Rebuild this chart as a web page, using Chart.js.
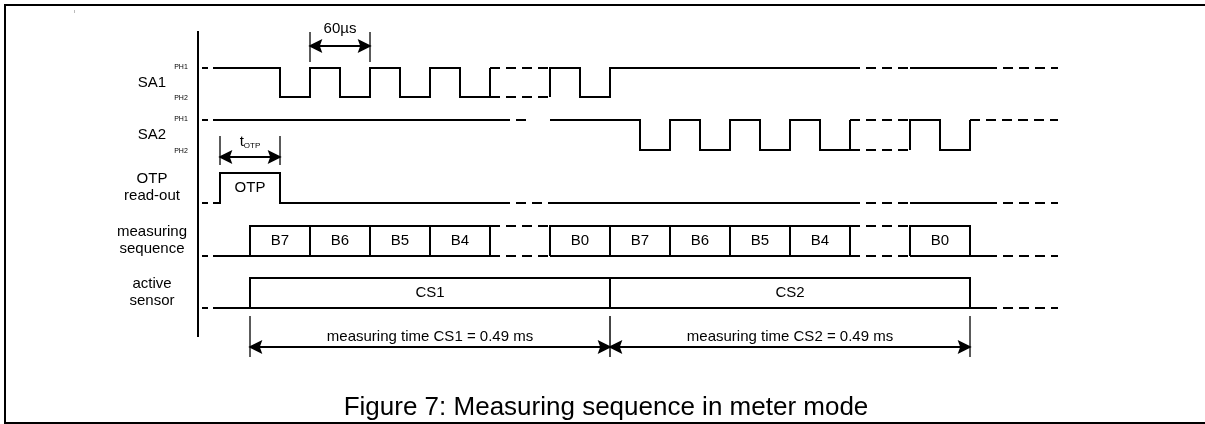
<!DOCTYPE html>
<html>
<head>
<meta charset="utf-8">
<script src="https://cdn.jsdelivr.net/npm/chart.js@4"></script>
<style>
  html, body { margin: 0; padding: 0; background: #fff; }
  canvas { display: block; }
</style>
</head>
<body>
<canvas id="timing" width="1205" height="424"></canvas>
<script>
// time in µs, 0 = start of the first B7 bit
// level 1 = high (PH1 / box top), level 0 = low (PH2 / baseline)

// SA1 clock
const sa1Solid = [
  [[-48, 1], [-42, 1]],
  [[-37, 1], [30, 1], [30, 0], [60, 0], [60, 1], [90, 1], [90, 0], [120, 0], [120, 1], [150, 1], [150, 0], [180, 0], [180, 1], [210, 1], [210, 0], [240, 0], [240, 1]],
  [[300, 0], [300, 1], [330, 1], [330, 0], [360, 0], [360, 1], [600, 1]],
  [[660, 1], [737, 1]]
];
const sa1Dashed = [
  [[240, 1], [300, 1]], [[240, 0], [300, 0]],
  [[600, 1], [660, 1]],
  [[737, 1], [808, 1]]
];

// SA2 clock
const sa2Solid = [
  [[-48, 1], [-42, 1]],
  [[-37, 1], [250, 1]],
  [[300, 1], [390, 1], [390, 0], [420, 0], [420, 1], [450, 1], [450, 0], [480, 0], [480, 1], [510, 1], [510, 0], [540, 0], [540, 1], [570, 1], [570, 0], [600, 0], [600, 1]],
  [[660, 0], [660, 1], [690, 1], [690, 0], [720, 0], [720, 1]]
];
const sa2Dashed = [
  [[250, 1], [282, 1]],
  [[600, 1], [660, 1]], [[600, 0], [660, 0]],
  [[720, 1], [808, 1]]
];

// OTP read-out
const otpSolid = [
  [[-48, 0], [-42, 0]],
  [[-37, 0], [-30, 0], [-30, 1], [30, 1], [30, 0], [250, 0]],
  [[300, 0], [600, 0]],
  [[660, 0], [737, 0]]
];
const otpDashed = [
  [[250, 0], [300, 0]],
  [[600, 0], [660, 0]],
  [[737, 0], [808, 0]]
];
const otpBox = ['OTP', -30, 30];

// measuring sequence
const bitLabels = ['B7', 'B6', 'B5', 'B4', 'B0', 'B7', 'B6', 'B5', 'B4', 'B0'];
const bitStarts = [0, 60, 120, 180, 300, 360, 420, 480, 540, 660];
const bitLength = 60;
const seqSolid = [
  [[-48, 0], [-42, 0]],
  [[-37, 0], [240, 0]],
  [[300, 0], [600, 0]],
  [[660, 0], [737, 0]]
];
const seqDashed = [
  [[240, 1], [300, 1]], [[240, 0], [300, 0]],
  [[600, 1], [660, 1]], [[600, 0], [660, 0]],
  [[737, 0], [808, 0]]
];

// active sensor
const sensorLabels = ['CS1', 'CS2'];
const sensorStarts = [0, 360];
const sensorLength = 360;
const sensorSolid = [
  [[-48, 0], [-42, 0]],
  [[-37, 0], [737, 0]]
];
const sensorDashed = [
  [[737, 0], [808, 0]]
];

// dimension arrows
const clockSpan = [60, 120];
const clockLabel = '60µs';
const otpSpan = [-30, 30];
const csSpans = [[0, 360], [360, 720]];
const csLabels = ['measuring time CS1 = 0.49 ms', 'measuring time CS2 = 0.49 ms'];

const rowLabels = [['SA1'], ['SA2'], ['OTP', 'read-out'], ['measuring', 'sequence'], ['active', 'sensor']];
const levelLabels = ['PH1', 'PH2'];
const caption = 'Figure 7: Measuring sequence in meter mode';

// layout (pixel rows, y axis maps 1:1 to pixels)
const rows = [
  { hi: 68, lo: 97, solid: sa1Solid, dashed: sa1Dashed },
  { hi: 120, lo: 150, solid: sa2Solid, dashed: sa2Dashed },
  { hi: 173, lo: 203, solid: otpSolid, dashed: otpDashed },
  { hi: 226, lo: 256, solid: seqSolid, dashed: seqDashed },
  { hi: 278, lo: 308, solid: sensorSolid, dashed: sensorDashed }
];
const FONT = '"Liberation Sans", Arial, sans-serif';
const axisT = -52;

const datasets = [];
function addLine(pts, opts) {
  datasets.push(Object.assign({
    data: pts.map(p => ({ x: p[0], y: p[1] })),
    showLine: true,
    borderColor: '#000',
    borderWidth: 2,
    pointRadius: 0,
    pointHoverRadius: 0,
    fill: false,
    clip: false,
    borderCapStyle: 'butt',
    borderJoinStyle: 'miter'
  }, opts || {}));
}
function lvl(row, pts) {
  return pts.map(p => [p[0], p[1] ? row.hi : row.lo]);
}

rows.forEach(row => {
  row.solid.forEach(pl => addLine(lvl(row, pl)));
  row.dashed.forEach(pl => addLine(lvl(row, pl), { borderDash: [10, 6] }));
});

// boxes
function box(row, t0, t1) {
  addLine(lvl(row, [[t0, 0], [t0, 1], [t1, 1], [t1, 0]]));
}
box(rows[2], otpBox[1], otpBox[2]);
bitStarts.forEach(t => box(rows[3], t, t + bitLength));
sensorStarts.forEach(t => box(rows[4], t, t + sensorLength));

// vertical axis
addLine([[axisT, 31], [axisT, 337]]);

// dimension arrows: [span, arrow y, tick top, tick bottom]
const dims = [
  [clockSpan, 46, 32, 62],
  [otpSpan, 157, 136, 165],
  [csSpans[0], 347, 316, 357],
  [csSpans[1], 347, 316, 357]
];
dims.forEach(([s, y, y0, y1]) => {
  addLine([[s[0], y], [s[1], y]]);
  addLine([[s[0], y0], [s[0], y1]], { borderWidth: 1, borderColor: '#444' });
  addLine([[s[1], y0], [s[1], y1]], { borderWidth: 1, borderColor: '#444' });
});

function head(ctx, x, y, dir) {
  ctx.beginPath();
  ctx.moveTo(x, y);
  ctx.lineTo(x - dir * 11, y - 5.5);
  ctx.lineTo(x - dir * 9, y);
  ctx.lineTo(x - dir * 11, y + 5.5);
  ctx.closePath();
  ctx.fill();
  ctx.lineWidth = 1.5;
  ctx.stroke();
}

const textPlugin = {
  id: 'texts',
  afterDatasetsDraw(chart) {
    const ctx = chart.ctx;
    const xs = chart.scales.x, ys = chart.scales.y;
    const X = t => xs.getPixelForValue(t);
    ctx.save();
    ctx.fillStyle = '#000';
    ctx.strokeStyle = '#000';

    // frame
    ctx.lineWidth = 2;
    ctx.beginPath();
    ctx.moveTo(1205, 5); ctx.lineTo(5, 5); ctx.lineTo(5, 423); ctx.lineTo(1205, 423);
    ctx.stroke();
    ctx.fillStyle = '#bbb';
    ctx.fillRect(74, 10, 1, 3);
    ctx.fillStyle = '#000';

    // arrow heads
    ctx.lineJoin = 'miter';
    dims.forEach(([s, y]) => {
      head(ctx, X(s[0]), ys.getPixelForValue(y), -1);
      head(ctx, X(s[1]), ys.getPixelForValue(y), 1);
    });

    ctx.textAlign = 'center';
    ctx.textBaseline = 'middle';

    // row labels
    ctx.font = '15px ' + FONT;
    rowLabels.forEach((lines, i) => {
      const mid = (rows[i].hi + rows[i].lo) / 2;
      lines.forEach((txt, j) => {
        const y = mid + (j - (lines.length - 1) / 2) * 17;
        ctx.fillText(txt, 152, y + (i < 2 ? 0 : -1));
      });
    });
    ctx.font = '7px ' + FONT;
    [rows[0], rows[1]].forEach(r => {
      ctx.fillText(levelLabels[0], 181, r.hi - 1);
      ctx.fillText(levelLabels[1], 181, r.lo + 1);
    });

    // box texts
    ctx.font = '15px ' + FONT;
    ctx.fillText(otpBox[0], X((otpBox[1] + otpBox[2]) / 2), (rows[2].hi + rows[2].lo) / 2);
    bitLabels.forEach((b, i) => {
      ctx.fillText(b, X(bitStarts[i] + bitLength / 2), (rows[3].hi + rows[3].lo) / 2);
    });
    sensorLabels.forEach((c, i) => {
      ctx.fillText(c, X(sensorStarts[i] + sensorLength / 2), (rows[4].hi + rows[4].lo) / 2);
    });

    // dimension labels
    ctx.fillText(clockLabel, X((clockSpan[0] + clockSpan[1]) / 2), 29);
    csLabels.forEach((l, i) => {
      ctx.fillText(l, X((csSpans[i][0] + csSpans[i][1]) / 2), 337);
    });
    // t_OTP
    const mx = X((otpSpan[0] + otpSpan[1]) / 2);
    ctx.textAlign = 'left';
    ctx.font = '15px ' + FONT;
    const tw = ctx.measureText('t').width;
    ctx.font = '8px ' + FONT;
    const sw = ctx.measureText('OTP').width;
    const x0 = mx - (tw + sw) / 2;
    ctx.font = '15px ' + FONT;
    ctx.fillText('t', x0, 142);
    ctx.font = '8px ' + FONT;
    ctx.fillText('OTP', x0 + tw, 146);

    // caption
    ctx.textAlign = 'center';
    ctx.textBaseline = 'alphabetic';
    ctx.font = '26px ' + FONT;
    ctx.fillText(caption, 606, 415);
    ctx.restore();
  }
};

new Chart(document.getElementById('timing'), {
  type: 'scatter',
  data: { datasets },
  options: {
    responsive: false,
    animation: false,
    events: [],
    layout: { padding: 0, autoPadding: false },
    scales: {
      x: { type: 'linear', min: -250, max: 955, display: false },
      y: { type: 'linear', min: 0, max: 424, reverse: true, display: false }
    },
    plugins: { legend: { display: false }, tooltip: { enabled: false } }
  },
  plugins: [textPlugin]
});
</script>
</body>
</html>
